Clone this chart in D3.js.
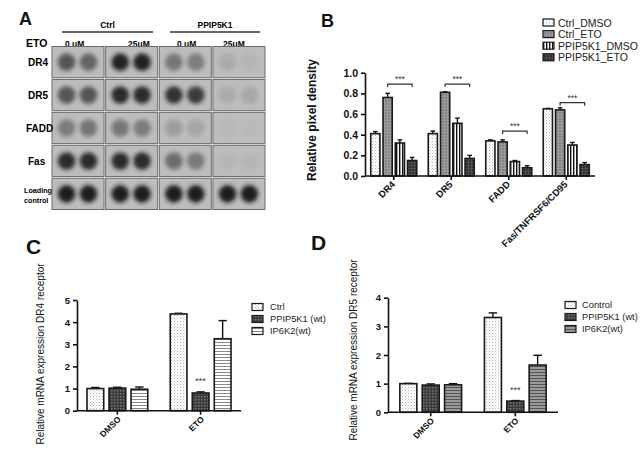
<!DOCTYPE html>
<html>
<head>
<style>
body { margin: 0; background: #fff; }
#fig { display: block; font-family: "Liberation Sans", Arial, sans-serif; }
.ax path, .ax line { stroke: #111; stroke-width: 1.6; }
.ax text { font-family: "Liberation Sans", Arial, sans-serif; fill: #111; font-weight: bold; }
</style>
</head>
<body>
<svg id="fig" width="640" height="453"></svg>
<script src="https://d3js.org/d3.v7.min.js"></script>
<script>
// ---- panel A: dot blot ----
var blotRows = ["DR4", "DR5", "FADD", "Fas", "Loading control"];
var blotCols = ["Ctrl 0 uM", "Ctrl 25uM", "PPIP5K1 0 uM", "PPIP5K1 25uM"];
// darkness of each dot (0 = background, 1 = black), two dots per cell
var blotDR4  = [[0.62, 0.52], [0.92, 0.92], [0.42, 0.38], [0.10, 0.05]];
var blotDR5  = [[0.62, 0.62], [0.88, 0.88], [0.82, 0.78], [0.10, 0.12]];
var blotFADD = [[0.38, 0.42], [0.42, 0.38], [0.18, 0.14], [0.02, 0.02]];
var blotFas  = [[0.88, 0.88], [0.86, 0.86], [0.48, 0.40], [0.04, 0.04]];
var blotLoad = [[0.96, 0.96], [0.96, 0.96], [0.96, 0.96], [0.96, 0.96]];
var blotData = [blotDR4, blotDR5, blotFADD, blotFas, blotLoad];

// ---- panel B ----
var catsB = ["DR4", "DR5", "FADD", "Fas/TNFRSF6/CD95"];
var seriesB = ["Ctrl_DMSO", "Ctrl_ETO", "PPIP5K1_DMSO", "PPIP5K1_ETO"];
var ctrlDmso   = [0.41, 0.41, 0.34, 0.65];
var ctrlEto    = [0.76, 0.81, 0.33, 0.64];
var ppipDmso   = [0.32, 0.51, 0.14, 0.30];
var ppipEto    = [0.15, 0.17, 0.08, 0.11];
var errCtrlDmso = [0.02, 0.025, 0.01, 0.005];
var errCtrlEto  = [0.04, 0.005, 0.02, 0.02];
var errPpipDmso = [0.03, 0.05, 0.01, 0.025];
var errPpipEto  = [0.03, 0.03, 0.02, 0.02];
var ticksB = [0, 0.2, 0.4, 0.6, 0.8, 1.0];
var sigB = [{cat: "DR4", y: 0.89}, {cat: "DR5", y: 0.89}, {cat: "FADD", y: 0.435}, {cat: "Fas/TNFRSF6/CD95", y: 0.71}];

// ---- panel C ----
var catsC = ["DMSO", "ETO"];
var seriesC = ["Ctrl", "PPIP5K1 (wt)", "IP6K2(wt)"];
var ctrlC = [1.00, 4.37];
var ppipC = [1.02, 0.80];
var ip6kC = [0.97, 3.25];
var errCtrlC = [0.05, 0.03];
var errPpipC = [0.04, 0.05];
var errIp6kC = [0.10, 0.82];
var ticksC = [0, 1, 2, 3, 4, 5];

// ---- panel D ----
var catsD = ["DMSO", "ETO"];
var seriesD = ["Control", "PPIP5K1 (wt)", "IP6K2(wt)"];
var ctrlD = [1.00, 3.31];
var ppipD = [0.95, 0.39];
var ip6kD = [0.96, 1.65];
var errCtrlD = [0.01, 0.16];
var errPpipD = [0.04, 0.02];
var errIp6kD = [0.04, 0.34];
var ticksD = [0, 1, 2, 3, 4];

const svg = d3.select("#fig");
svg.append("rect").attr("width", 640).attr("height", 453).attr("fill", "#fff");
const defs = svg.append("defs");

// fill patterns
function pattern(id, w, h, bg, draw) {
    var p = defs.append("pattern").attr("id", id).attr("patternUnits", "userSpaceOnUse")
        .attr("width", w).attr("height", h);
    p.append("rect").attr("width", w).attr("height", h).attr("fill", bg);
    draw(p);
}
pattern("dots", 3, 3, "#fff", p => {
    p.append("rect").attr("x", 0).attr("y", 0).attr("width", 1).attr("height", 1).attr("fill", "#b5b5b5");
    p.append("rect").attr("x", 1.5).attr("y", 1.5).attr("width", 1).attr("height", 1).attr("fill", "#cfcfcf");
});
pattern("gridGray", 3, 3, "#858585", p => {
    p.append("path").attr("d", "M0 0.5H3M0.5 0V3").attr("stroke", "#a0a0a0").attr("stroke-width", 0.8);
});
pattern("vstripe", 3, 3, "#fff", p => {
    p.append("rect").attr("x", 0).attr("y", 0).attr("width", 1.4).attr("height", 3).attr("fill", "#111");
});
pattern("gridDark", 3, 3, "#303030", p => {
    p.append("path").attr("d", "M0 0.5H3M0.5 0V3").attr("stroke", "#555").attr("stroke-width", 0.8);
});
pattern("checkDark", 3, 3, "#3a3a3a", p => {
    p.append("rect").attr("x", 0).attr("y", 0).attr("width", 1.5).attr("height", 1.5).attr("fill", "#777");
});
pattern("hstripe", 3, 3, "#fff", p => {
    p.append("rect").attr("x", 0).attr("y", 0).attr("width", 3).attr("height", 1).attr("fill", "#888");
});
pattern("hstripeGray", 3, 3, "#9a9a9a", p => {
    p.append("rect").attr("x", 0).attr("y", 0).attr("width", 3).attr("height", 1).attr("fill", "#555");
});
defs.append("filter").attr("id", "blur").attr("x", "-50%").attr("y", "-50%").attr("width", "200%").attr("height", "200%")
    .append("feGaussianBlur").attr("stdDeviation", 1.9);

function panelLetter(t, x, y, fs) {
    svg.append("text").attr("x", x).attr("y", y).attr("font-size", fs).attr("font-weight", "bold")
        .attr("fill", "#111").text(t);
}

// ================= Panel A =================
panelLetter("A", 19, 25, 18);
const bx = d3.scaleBand().domain(blotCols).range([52, 265]).paddingInner(0.03);
const by = d3.scaleBand().domain(blotRows).range([46.5, 209.5]).paddingInner(0.05);
const darkColor = d3.interpolateRgb("#bcbcbc", "#151515");
const gA = svg.append("g");

[{t: "Ctrl", x0: 62, x1: 153}, {t: "PPIP5K1", x0: 170, x1: 260}].forEach(h => {
    gA.append("text").attr("x", (h.x0 + h.x1) / 2).attr("y", 28).attr("text-anchor", "middle")
        .attr("font-size", 8.5).attr("font-weight", "bold").text(h.t);
    gA.append("line").attr("x1", h.x0).attr("x2", h.x1).attr("y1", 32).attr("y2", 32)
        .attr("stroke", "#333").attr("stroke-width", 1.3);
});
gA.append("text").attr("x", 26).attr("y", 47).attr("font-size", 10.5).attr("font-weight", "bold").text("ETO");
var doseX = [65, 128, 177, 223];
blotCols.forEach((c, i) => {
    gA.append("text").attr("x", doseX[i]).attr("y", 47).attr("font-size", 8.5).attr("font-weight", "bold")
        .text(c.split(" ").slice(1).join(" "));
});
blotRows.forEach((r, ri) => {
    var cy = by(r) + by.bandwidth() / 2;
    blotCols.forEach((c, ci) => {
        gA.append("rect").attr("x", bx(c)).attr("y", by(r)).attr("width", bx.bandwidth()).attr("height", by.bandwidth())
            .attr("fill", "#bdbdbd").attr("stroke", "#6a6a6a").attr("stroke-width", 1);
        gA.selectAll(null).data(blotData[ri][ci]).enter().append("circle")
            .attr("cx", (d, k) => bx(c) + bx.bandwidth() * (k === 0 ? 0.28 : 0.70))
            .attr("cy", cy)
            .attr("r", 8.8)
            .attr("fill", d => darkColor(d))
            .attr("filter", "url(#blur)");
    });
    // row labels go on top so "Loading" may touch the box
    if (r === "Loading control") {
        gA.append("text").attr("x", 24).attr("y", cy - 1).attr("font-size", 7.2).attr("font-weight", "bold").text("Loading");
        gA.append("text").attr("x", 24).attr("y", cy + 9).attr("font-size", 7.2).attr("font-weight", "bold").text("control");
    } else {
        gA.append("text").attr("x", r === "FADD" ? 26 : 28).attr("y", cy + 4).attr("font-size", 10)
            .attr("font-weight", "bold").text(r);
    }
});

// ================= grouped bar helper =================
function barChart(o) {
    const g = svg.append("g");
    const x0 = d3.scaleBand().domain(o.cats).range(o.xr).paddingInner(o.pi).paddingOuter(o.po);
    const x1 = d3.scaleBand().domain(o.series).range([0, x0.bandwidth()]).paddingInner(o.pi1);
    const y = d3.scaleLinear().domain(o.yd).range(o.yr);
    var rows = [];
    o.cats.forEach((c, ci) => o.series.forEach((s, si) => {
        rows.push({cat: c, s: s, si: si, v: o.values[si][ci], e: o.errs[si][ci]});
    }));
    // error bars (up only)
    var eb = g.selectAll(".eb").data(rows).enter().append("g");
    eb.append("line")
        .attr("x1", d => x0(d.cat) + x1(d.s) + x1.bandwidth() / 2)
        .attr("x2", d => x0(d.cat) + x1(d.s) + x1.bandwidth() / 2)
        .attr("y1", d => y(d.v)).attr("y2", d => y(d.v + d.e))
        .attr("stroke", "#111").attr("stroke-width", 1.4);
    eb.append("line")
        .attr("x1", d => x0(d.cat) + x1(d.s) + x1.bandwidth() * 0.25)
        .attr("x2", d => x0(d.cat) + x1(d.s) + x1.bandwidth() * 0.75)
        .attr("y1", d => y(d.v + d.e)).attr("y2", d => y(d.v + d.e))
        .attr("stroke", "#111").attr("stroke-width", 1.4);
    g.selectAll(".bar").data(rows).enter().append("rect")
        .attr("x", d => x0(d.cat) + x1(d.s))
        .attr("y", d => y(d.v))
        .attr("width", x1.bandwidth())
        .attr("height", d => y(0) - y(d.v))
        .attr("fill", d => "url(#" + o.fills[d.si] + ")")
        .attr("stroke", "#1a1a1a").attr("stroke-width", o.sw);
    // axes
    g.append("g").attr("class", "ax").attr("transform", "translate(" + o.xr[0] + ",0)")
        .call(d3.axisLeft(y).tickValues(o.ticks).tickFormat(o.fmt).tickSize(4).tickSizeOuter(0))
        .selectAll("text").attr("font-size", o.tfs);
    var xa = g.append("g").attr("class", "ax").attr("transform", "translate(0," + o.yr[0] + ")")
        .call(d3.axisBottom(x0).tickSize(4).tickSizeOuter(0));
    xa.select(".domain").attr("d", "M" + o.xr[0] + ",0H" + o.xr[1]);
    xa.selectAll("text").attr("font-size", o.xfs)
        .attr("text-anchor", "end").attr("dy", null).attr("y", 0)
        .attr("transform", "translate(" + o.xlo[0] + "," + o.xlo[1] + ") rotate(-45)");
    // y label
    g.append("text").attr("transform", "translate(" + o.yl[0] + "," + o.yl[1] + ") rotate(-90)")
        .attr("text-anchor", "middle").attr("dominant-baseline", "central")
        .attr("font-size", o.ylfs).attr("font-weight", o.ylfw).attr("fill", "#111").text(o.ylabel);
    // legend
    var lg = g.selectAll(".lg").data(o.series).enter().append("g")
        .attr("transform", (d, i) => "translate(" + o.leg[0] + "," + (o.leg[1] + i * o.leg[2]) + ")");
    lg.append("rect").attr("x", 0).attr("y", -3.5).attr("width", 11).attr("height", 7)
        .attr("fill", (d, i) => "url(#" + o.fills[i] + ")").attr("stroke", "#1a1a1a").attr("stroke-width", 1.2);
    lg.append("text").attr("x", o.leg[3]).attr("y", 0).attr("dominant-baseline", "central")
        .attr("font-size", o.lfs).attr("fill", "#222").text(d => d);
    return {g: g, x0: x0, x1: x1, y: y};
}

// ================= Panel B =================
panelLetter("B", 321, 27, 18);
const B = barChart({
    cats: catsB, series: seriesB,
    values: [ctrlDmso, ctrlEto, ppipDmso, ppipEto],
    errs: [errCtrlDmso, errCtrlEto, errPpipDmso, errPpipEto],
    fills: ["dots", "gridGray", "vstripe", "gridDark"],
    xr: [365, 595], pi: 0.2, po: 0.1, pi1: 0.25,
    yd: [0, 1], yr: [176, 72.7], ticks: ticksB, fmt: d3.format(".1f"), tfs: 10.5,
    xfs: 9.5, xlo: [2, 9], sw: 1.6,
    yl: [312, 120], ylabel: "Relative pixel density", ylfs: 12, ylfw: "bold",
    leg: [543, 22.5, 11.6, 15], lfs: 10.5
});
var sg = B.g.selectAll(".sig").data(sigB).enter().append("g");
sg.append("path").attr("fill", "none").attr("stroke", "#333").attr("stroke-width", 1.2)
    .attr("d", d => {
        var xa = B.x0(d.cat) + B.x1(seriesB[1]) + B.x1.bandwidth() / 2;
        var xb = B.x0(d.cat) + B.x1(seriesB[3]) + B.x1.bandwidth() / 2;
        var yy = B.y(d.y);
        return "M" + xa + "," + (yy + 3) + "V" + yy + "H" + xb + "V" + (yy + 3);
    });
sg.append("text").attr("text-anchor", "middle").attr("font-size", 8.5).attr("fill", "#333")
    .attr("x", d => B.x0(d.cat) + (B.x1(seriesB[1]) + B.x1(seriesB[3]) + B.x1.bandwidth()) / 2)
    .attr("y", d => B.y(d.y) - 2).text("***");

// ================= Panel C =================
panelLetter("C", 26, 254, 21);
const C = barChart({
    cats: catsC, series: seriesC,
    values: [ctrlC, ppipC, ip6kC],
    errs: [errCtrlC, errPpipC, errIp6kC],
    fills: ["dots", "checkDark", "hstripe"],
    xr: [77, 241], pi: 0.27, po: 0.12, pi1: 0.24,
    yd: [0, 5], yr: [410.7, 300], ticks: ticksC, fmt: d3.format("d"), tfs: 9.5,
    xfs: 8.5, xlo: [4, 9], sw: 1.6,
    yl: [40, 354], ylabel: "Relative mRNA expression DR4 receptor", ylfs: 10, ylfw: "normal",
    leg: [252, 307, 12, 18], lfs: 9.3
});
C.g.append("text").attr("text-anchor", "middle").attr("font-size", 9).attr("fill", "#333")
    .attr("x", C.x0("ETO") + C.x1(seriesC[1]) + C.x1.bandwidth() / 2)
    .attr("y", C.y(ppipC[1] + errPpipC[1]) - 8).text("***");

// ================= Panel D =================
panelLetter("D", 311, 250, 21);
const D = barChart({
    cats: catsD, series: seriesD,
    values: [ctrlD, ppipD, ip6kD],
    errs: [errCtrlD, errPpipD, errIp6kD],
    fills: ["dots", "checkDark", "hstripeGray"],
    xr: [388, 558], pi: 0.27, po: 0.14, pi1: 0.24,
    yd: [0, 4], yr: [412.3, 297.7], ticks: ticksD, fmt: d3.format("d"), tfs: 9.5,
    xfs: 8.5, xlo: [4, 9], sw: 1.6,
    yl: [353, 350], ylabel: "Relative mRNA expression DR5 receptor", ylfs: 10, ylfw: "normal",
    leg: [565, 305, 12, 17], lfs: 9.3
});
D.g.append("text").attr("text-anchor", "middle").attr("font-size", 9).attr("fill", "#333")
    .attr("x", D.x0("ETO") + D.x1(seriesD[1]) + D.x1.bandwidth() / 2)
    .attr("y", D.y(ppipD[1] + errPpipD[1]) - 8).text("***");
</script>
</body>
</html>
